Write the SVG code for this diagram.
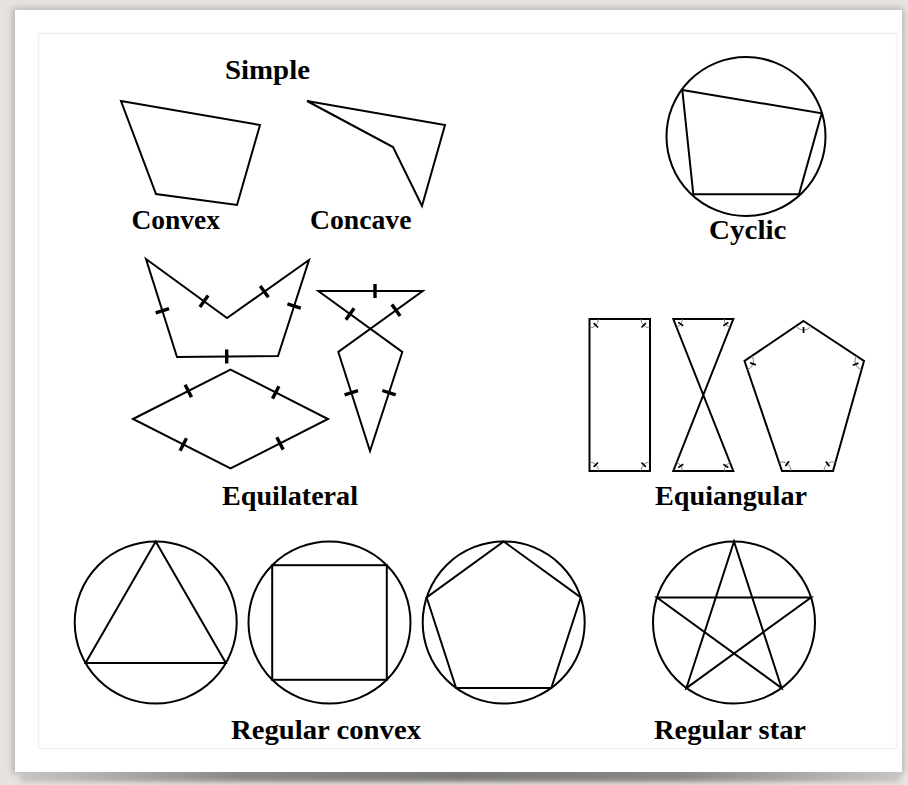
<svg xmlns="http://www.w3.org/2000/svg" width="908" height="785" viewBox="0 0 908 785">
<defs>
<style>
.s{fill:none;stroke:#000;stroke-width:2;stroke-linejoin:miter}
.t{fill:none;stroke:#000;stroke-width:3.4;stroke-linecap:butt}
.lbl{font-family:"Liberation Serif","Times New Roman",serif;font-weight:bold;font-size:27px;fill:#000}
.arc{fill:none;stroke:#777;stroke-width:0.9}
.tk{stroke:#000;stroke-width:1.7}
</style>
<linearGradient id="shH" x1="0" y1="0" x2="1" y2="0">
<stop offset="0" stop-color="#c8c6c2"/>
<stop offset="0.25" stop-color="#8a8886"/>
<stop offset="0.5" stop-color="#7a7876"/>
<stop offset="0.75" stop-color="#8a8886"/>
<stop offset="1" stop-color="#c8c6c2"/>
</linearGradient>
<filter id="blur" x="-5%" y="-5%" width="110%" height="110%"><feGaussianBlur stdDeviation="3"/></filter>
<filter id="blur2" x="-5%" y="-50%" width="110%" height="200%"><feGaussianBlur stdDeviation="2.5"/></filter>
<g id="m90"><path class="arc" d="M9,0 A9,9 0 0 1 0,9"/><line class="tk" x1="4.2" y1="4.2" x2="8.5" y2="8.5"/></g>
<g id="m68"><path class="arc" d="M9,0 A9,9 0 0 1 3.3,8.37"/><line class="tk" x1="4.96" y1="3.38" x2="9.92" y2="6.75"/></g>
<g id="m108"><path class="arc" d="M9,0 A9,9 0 0 1 -2.78,8.56"/><line class="tk" x1="3.53" y1="4.85" x2="7.05" y2="9.71"/></g>
</defs>

<!-- background and card -->
<rect x="0" y="0" width="908" height="785" fill="#e7e4df"/>
<rect x="12" y="8" width="892" height="766" fill="#b9b7b3" filter="url(#blur)"/>
<rect x="20" y="768" width="880" height="14" fill="url(#shH)" filter="url(#blur2)"/>
<rect x="15" y="10" width="887" height="762" fill="#ffffff"/>
<rect x="38.5" y="33.5" width="858" height="715" fill="none" stroke="#f1f1f1" stroke-width="1.5"/>

<!-- Simple -->
<g id="simple-label"><text class="lbl" x="225" y="78.5" textLength="85" lengthAdjust="spacingAndGlyphs">Simple</text></g>
<g id="convex">
<polygon class="s" points="121,101 260,125 237,205 156,194"/>
<text class="lbl" x="131.5" y="228.5" textLength="88.5" lengthAdjust="spacingAndGlyphs">Convex</text>
</g>
<g id="concave">
<polygon class="s" points="307,101 445,125 422,206 393,147"/>
<text class="lbl" x="310" y="228.5" textLength="101.5" lengthAdjust="spacingAndGlyphs">Concave</text>
</g>

<!-- Cyclic -->
<g id="cyclic">
<circle class="s" cx="746" cy="136.5" r="79.5"/>
<polygon class="s" points="682.3,90 821.7,113.3 799,194.3 693.3,194.3"/>
<text class="lbl" x="709" y="238.5" textLength="77.5" lengthAdjust="spacingAndGlyphs">Cyclic</text>
</g>

<!-- Equilateral -->
<g id="equilateral">
<g id="eq-bow">
<polygon class="s" points="146,259 227,318 309,260 278,356 177,357"/>
<line class="t" x1="199.9" y1="306.9" x2="208.1" y2="295.5"/>
<line class="t" x1="260.2" y1="285.9" x2="268.4" y2="297.3"/>
<line class="t" x1="287.4" y1="303.9" x2="300.8" y2="308.1"/>
<line class="t" x1="226.7" y1="349.5" x2="226.7" y2="363.5"/>
<line class="t" x1="155.7" y1="312.8" x2="169.1" y2="308.6"/>
</g>
<g id="eq-rhombus">
<polygon class="s" points="133,419 230.5,369.5 328,419 230.5,468.5"/>
<line class="t" x1="185.1" y1="384.7" x2="191.5" y2="397.1"/>
<line class="t" x1="278.9" y1="386.2" x2="272.5" y2="398.6"/>
<line class="t" x1="276.8" y1="437.2" x2="283.2" y2="449.6"/>
<line class="t" x1="186.5" y1="438.3" x2="180.1" y2="450.7"/>
</g>
<g id="eq-crossed">
<polygon class="s" points="318.3,291 422.7,291 338.3,352 370,451 402.3,352"/>
<line class="t" x1="375" y1="284" x2="375" y2="298"/>
<line class="t" x1="391.9" y1="304.6" x2="400.1" y2="316"/>
<line class="t" x1="345.9" y1="319.7" x2="354.1" y2="308.3"/>
<line class="t" x1="344.6" y1="394.8" x2="358" y2="390.6"/>
<line class="t" x1="382.3" y1="390.5" x2="395.7" y2="394.9"/>
</g>
<text class="lbl" x="222" y="505" textLength="136" lengthAdjust="spacingAndGlyphs">Equilateral</text>
</g>

<!-- Equiangular -->
<g id="equiangular">
<g id="ea-rect">
<rect class="s" x="589.5" y="319" width="60.5" height="152" stroke-width="2.4"/>
<use href="#m90" transform="translate(589.5,319)"/>
<use href="#m90" transform="translate(650,319) rotate(90)"/>
<use href="#m90" transform="translate(650,471) rotate(180)"/>
<use href="#m90" transform="translate(589.5,471) rotate(270)"/>
</g>
<g id="ea-hourglass">
<polygon class="s" points="673.3,319 733.3,319 673.3,471 733.3,471" stroke-width="2.4"/>
<use href="#m68" transform="translate(673.3,319)"/>
<use href="#m68" transform="translate(733.3,319) rotate(111.5)"/>
<use href="#m68" transform="translate(733.3,471) rotate(180)"/>
<use href="#m68" transform="translate(673.3,471) rotate(-68.5)"/>
</g>
<g id="ea-pentagon">
<polygon class="s" points="803.5,321 864,361 833,471 782,471 744.5,361" stroke-width="2.4"/>
<use href="#m108" transform="translate(803.5,321) rotate(35.7)"/>
<use href="#m108" transform="translate(864,361) rotate(105.6)"/>
<use href="#m108" transform="translate(833,471) rotate(178.9)"/>
<use href="#m108" transform="translate(782,471) rotate(251.6)"/>
<use href="#m108" transform="translate(744.5,361) rotate(-35.45)"/>
</g>
<text class="lbl" x="655" y="505" textLength="152" lengthAdjust="spacingAndGlyphs">Equiangular</text>
</g>

<!-- Regular convex -->
<g id="regular-convex">
<g id="rc-triangle">
<circle class="s" cx="155.7" cy="622.5" r="81"/>
<polygon class="s" points="155.7,541.5 225.85,663 85.55,663"/>
</g>
<g id="rc-square">
<circle class="s" cx="329.5" cy="622.5" r="81"/>
<rect class="s" x="272.2" y="565.2" width="114.6" height="114.6"/>
</g>
<g id="rc-pentagon">
<circle class="s" cx="503.7" cy="622.5" r="81"/>
<polygon class="s" points="503.7,541.5 580.74,597.47 551.31,688.03 456.09,688.03 426.66,597.47"/>
</g>
<text class="lbl" x="231" y="738.5" textLength="190" lengthAdjust="spacingAndGlyphs">Regular convex</text>
</g>

<!-- Regular star -->
<g id="regular-star">
<circle class="s" cx="734" cy="622.5" r="81"/>
<polygon class="s" points="734,541.5 781.61,688.03 656.96,597.47 811.04,597.47 686.39,688.03"/>
<text class="lbl" x="654" y="738.5" textLength="152" lengthAdjust="spacingAndGlyphs">Regular star</text>
</g>
</svg>
